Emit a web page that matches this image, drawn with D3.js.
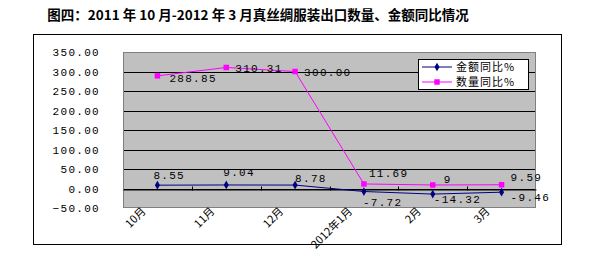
<!DOCTYPE html>
<html>
<head>
<meta charset="utf-8">
<script src="https://cdn.jsdelivr.net/npm/d3@7.9.0/dist/d3.min.js"></script>
<style>
  body { margin: 0; background: #fff; }
  svg { display: block; }
</style>
</head>
<body>
<svg id="chart" width="604" height="256"></svg>
<script>
const months = ['10月', '11月', '12月', '2012年1月', '2月', '3月'];
const amountYoY = [8.55, 9.04, 8.78, -7.72, -14.32, -9.46];
const amountText = ['8.55', '9.04', '8.78', '-7.72', '-14.32', '-9.46'];
const volumeYoY = [288.85, 310.31, 300.00, 11.69, 9, 9.59];
const volumeText = ['288.85', '310.31', '300.00', '11.69', '9', '9.59'];
const yTicks = [-50, 0, 50, 100, 150, 200, 250, 300, 350];
const seriesNames = ['金额同比%', '数量同比%'];

// label nudges relative to each point
const amountNudge = [[-4, -10], [-3, -13], [0, -7], [-1, 10], [1, 5], [9, 5]];
const volumeNudge = [[12, 2], [9, 1], [9, 0], [5, -11], [11, -6], [9, -8]];

const svg = d3.select('#chart');
const monoFont = '"Liberation Mono", "DejaVu Sans Mono", monospace';
const cjkFont = '"Noto Sans CJK SC", sans-serif';

const plot = { left: 123, top: 52, right: 536, bottom: 208 };

svg.append('text')
  .attr('x', 258).attr('y', 20)
  .attr('text-anchor', 'middle')
  .attr('font-family', cjkFont)
  .attr('font-weight', 'bold')
  .attr('font-size', 13.5)
  .text('图四：2011 年 10 月-2012 年 3 月真丝绸服装出口数量、金额同比情况');

// outer chart frame
svg.append('rect')
  .attr('x', 33.5).attr('y', 34.5)
  .attr('width', 528).attr('height', 210)
  .attr('fill', '#fff').attr('stroke', '#000');

let x = d3.scaleBand().domain(months).range([plot.left, plot.right]);
let y = d3.scaleLinear().domain([-50, 350]).range([plot.bottom, plot.top]);
let cx = (d) => x(d) + x.bandwidth() / 2;

svg.append('rect')
  .attr('x', plot.left).attr('y', plot.top)
  .attr('width', plot.right - plot.left).attr('height', plot.bottom - plot.top)
  .attr('fill', '#c0c0c0');

svg.append('g')
  .selectAll('line')
  .data(yTicks.filter((d) => d !== -50))
  .join('line')
  .attr('x1', plot.left).attr('x2', plot.right)
  .attr('y1', (d) => Math.round(y(d)) + 0.5)
  .attr('y2', (d) => Math.round(y(d)) + 0.5)
  .attr('stroke', '#000');

svg.append('rect')
  .attr('x', plot.left + 0.5).attr('y', plot.top + 0.5)
  .attr('width', plot.right - plot.left - 1).attr('height', plot.bottom - plot.top - 1)
  .attr('fill', 'none').attr('stroke', '#808080');

// y axis labels
svg.append('g')
  .selectAll('text')
  .data(yTicks)
  .join('text')
  .attr('x', 100)
  .attr('y', (d) => y(d) + 4)
  .attr('text-anchor', 'end')
  .attr('font-family', monoFont)
  .attr('font-size', 11)
  .attr('letter-spacing', 1.3)
  .text((d) => d3.format('.2f')(d));

// category axis sits at zero
let zeroY = Math.round(y(0)) + 0.5;
let xAxis = svg.append('g').attr('transform', `translate(0,${zeroY})`);
xAxis.call(d3.axisBottom(x).tickSize(0).tickFormat(''));
xAxis.select('.domain').attr('stroke', '#000');
xAxis.selectAll('.tick-mark')
  .data(d3.range(1, months.length))
  .join('line')
  .attr('class', 'tick-mark')
  .attr('x1', (i) => Math.round(plot.left + i * x.step()) + 0.5)
  .attr('x2', (i) => Math.round(plot.left + i * x.step()) + 0.5)
  .attr('y1', -3).attr('y2', 1)
  .attr('stroke', '#000');

svg.append('g')
  .selectAll('text')
  .data(months)
  .join('text')
  .attr('transform', (d) => `translate(${cx(d) - 11},${plot.bottom + 4}) rotate(-45)`)
  .attr('text-anchor', 'end')
  .attr('font-family', cjkFont)
  .attr('font-size', 11)
  .text((d) => d);

const amountColor = '#000080';
const volumeColor = '#ff00ff';

let line = d3.line().x((d, i) => cx(months[i])).y((d) => y(d));

svg.append('path')
  .datum(volumeYoY)
  .attr('d', line)
  .attr('fill', 'none')
  .attr('stroke', volumeColor)
  .attr('stroke-width', 1);

svg.append('path')
  .datum(amountYoY)
  .attr('d', line)
  .attr('fill', 'none')
  .attr('stroke', amountColor)
  .attr('stroke-width', 1);

let square = d3.symbol().type(d3.symbolSquare).size(30);
let diamond = d3.symbol().type(d3.symbolDiamond).size(22);

svg.append('g')
  .selectAll('path')
  .data(volumeYoY)
  .join('path')
  .attr('transform', (d, i) => `translate(${cx(months[i])},${y(d)})`)
  .attr('d', square)
  .attr('fill', volumeColor);

svg.append('g')
  .selectAll('path')
  .data(amountYoY)
  .join('path')
  .attr('transform', (d, i) => `translate(${cx(months[i])},${y(d)})`)
  .attr('d', diamond)
  .attr('fill', amountColor);

function drawLabels(values, texts, nudges) {
  svg.append('g')
    .selectAll('text')
    .data(values)
    .join('text')
    .attr('x', (d, i) => cx(months[i]) + nudges[i][0])
    .attr('y', (d, i) => y(d) + nudges[i][1] + 4)
    .attr('font-family', monoFont)
    .attr('font-size', 11)
    .attr('letter-spacing', 1.3)
    .text((d, i) => texts[i]);
}
drawLabels(volumeYoY, volumeText, volumeNudge);
drawLabels(amountYoY, amountText, amountNudge);

// legend
let legend = svg.append('g').attr('transform', 'translate(418,59)');
legend.append('rect')
  .attr('x', 0.5).attr('y', 0.5)
  .attr('width', 110).attr('height', 30)
  .attr('fill', '#fff').attr('stroke', '#000');

let colors = [amountColor, volumeColor];
let shapes = [diamond, square];
seriesNames.forEach((name, i) => {
  let ly = 8 + i * 15;
  legend.append('line')
    .attr('x1', 4).attr('x2', 34)
    .attr('y1', ly).attr('y2', ly)
    .attr('stroke', colors[i]);
  legend.append('path')
    .attr('transform', `translate(19,${ly})`)
    .attr('d', shapes[i])
    .attr('fill', colors[i]);
  legend.append('text')
    .attr('x', 38).attr('y', ly + 4)
    .attr('font-family', cjkFont)
    .attr('font-size', 11)
    .attr('letter-spacing', 1)
    .text(name);
});
</script>
</body>
</html>
